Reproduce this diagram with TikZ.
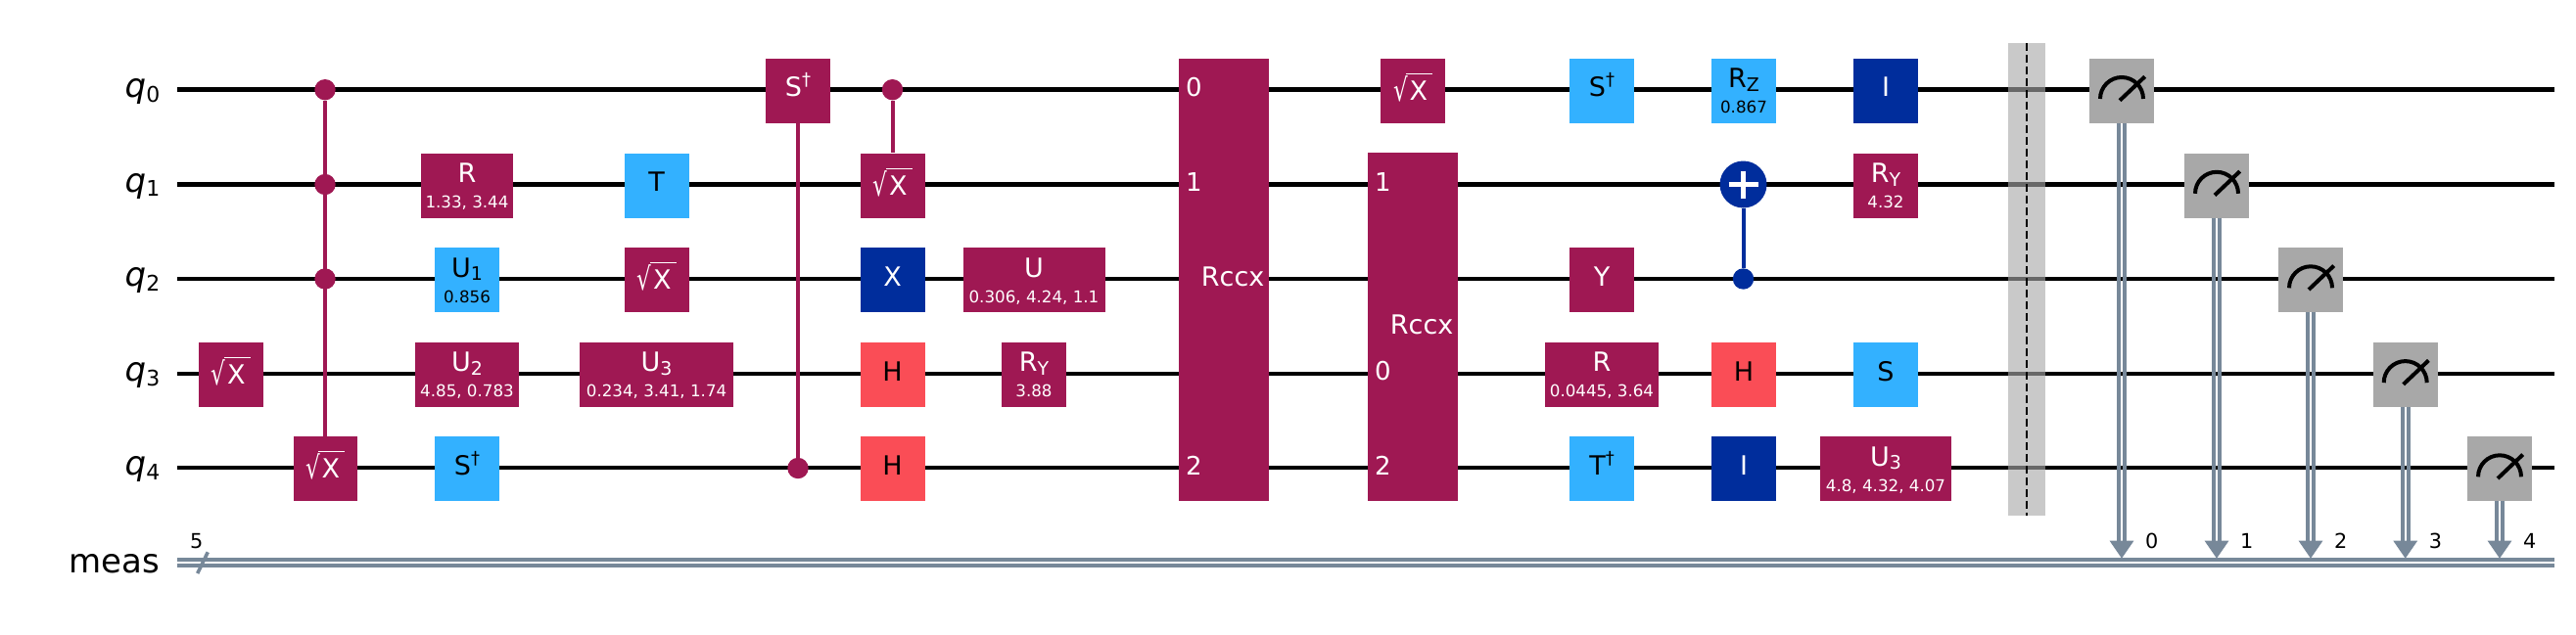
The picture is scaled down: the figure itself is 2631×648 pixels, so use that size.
\documentclass[tikz,border=0pt]{standalone}
\usepackage{fontspec}
\setmainfont{DejaVu Sans}
\newfontfamily\radf[FakeStretch=0.72]{DejaVu Sans}
\definecolor{qpur}{HTML}{9F1853}
\definecolor{qsky}{HTML}{33B1FF}
\definecolor{qdrk}{HTML}{002D9C}
\definecolor{qred}{HTML}{FA4D56}
\definecolor{qgry}{HTML}{A8A8A8}
\definecolor{qcw}{HTML}{778899}
\tikzset{
  x=1pt,y=-1pt,
  gbox/.style={rectangle,inner sep=0pt,minimum height=66pt,minimum width=#1},
  gbox/.default=66pt,
  gpur/.style={fill=qpur},gsky/.style={fill=qsky},gdrk/.style={fill=qdrk},gred/.style={fill=qred},
  tpur/.style={text=white},tsky/.style={text=black},tdrk/.style={text=white},tred/.style={text=black},
  gtxt/.style={inner sep=0pt,anchor=base,font=\fontsize{27}{30}\selectfont},
  gdig/.style={inner sep=0pt,text=white,anchor=base west,font=\fontsize{26}{30}\selectfont},
  gsub/.style={inner sep=0pt,anchor=base,font=\fontsize{16.7}{20}\selectfont},
  qlab/.style={inner sep=0pt,anchor=base east,text=black,font=\fontsize{34}{38}\selectfont},
  small/.style={inner sep=0pt,anchor=base,text=black,font=\fontsize{20.8}{24}\selectfont},
  wire/.style={line width=4.5pt,black},
  cwire/.style={line width=4pt,qcw},
  ctl/.style={line width=4pt,#1},
  dot/.style={circle,inner sep=0pt,minimum size=21.4pt,fill=#1},
  icon/.style={line width=4pt,black},
}
\def\ya{91.7}\def\yb{188.5}\def\yc{285}\def\yd{381.8}\def\ye{478}
\newcommand\sqx{\raisebox{-3.3pt}{\makebox[40pt][l]{\rlap{\radf\fontsize{32}{33}\selectfont\raisebox{-1pt}{√}}\rlap{\kern13.3pt\rule[26.3pt]{26.7pt}{1.1pt}}\kern16.6pt X}}}
\newcommand\subm[1]{\raisebox{-3.7pt}{\fontsize{19}{20}\selectfont #1}}
\newcommand\dg{\raisebox{11pt}{\fontsize{18}{20}\selectfont †}}
\newcommand\pgate[6]{% name,x,y,width,colour,title
  \node[gbox=#4,g#5] (#1) at (#2,{#3+1}) {};
  \node[gtxt,t#5] (#1t) at (#2,{#3+7.2}) {#6};}
\newcommand\vgate[7]{% name,x,y,width,colour,title,value
  \node[gbox=#4,g#5] (#1) at (#2,{#3+1}) {};
  \node[gtxt,t#5] (#1t) at (#2,{#3-2}) {#6};
  \node[gsub,t#5] (#1v) at (#2,{#3+24}) {#7};}
\newcommand\measg[4]{% name,x,y,bit
  \coordinate (#1a) at (#2,552.7);
  \coordinate (#1b) at (#2,570.7);
  \node[gbox=66pt,fill=qgry] (#1) at (#2,{#3+1}) {};
  \draw[cwire] ([xshift=-3pt]#1.south) -- ([xshift=-3pt]#1a);
  \draw[cwire] ([xshift=3pt]#1.south) -- ([xshift=3pt]#1a);
  \fill[qcw] ([xshift=-12.4pt]#1a) -- ([xshift=12.4pt]#1a) -- (#1b) -- cycle;
  \coordinate (#1p) at (#2-22,{#3+9.3});
  \draw[icon] (#1p) arc[start angle=180,end angle=360,radius=22];
  \coordinate (#1n) at (#2-2,{#3+11});
  \coordinate (#1e) at (#2+23.7,{#3-13.4});
  \draw[icon] (#1n) -- (#1e);
  \node[small] (#1l) at (#2+30.7,560.7) {#4};}
\begin{document}
\begin{tikzpicture}
\useasboundingbox (0,0) rectangle (2631,648);
% qubit wires
\foreach \n/\y in {a/\ya,b/\yb,c/\yc,d/\yd,e/\ye}{
  \coordinate (w\n s) at (181,\y);
  \coordinate (w\n e) at (2609,\y);
  \draw[wire] (w\n s) -- (w\n e);
}
% classical wire
\coordinate (cas) at (181,572);\coordinate (cae) at (2609,572);
\coordinate (cbs) at (181,577.8);\coordinate (cbe) at (2609,577.8);
\draw[cwire] (cas) -- (cae);
\draw[cwire] (cbs) -- (cbe);
\coordinate (sla) at (201.7,586);\coordinate (slb) at (212.3,564.3);
\draw[line width=3.6pt,qcw] (sla) -- (slb);
\node[small] (five) at (200.7,560.7) {5};
% labels
\node[qlab] (lq0) at (163.5,{\ya+7.6}) {\textit{q}\raisebox{-4.7pt}{\fontsize{22}{24}\selectfont 0}};
\node[qlab] (lq1) at (163.5,{\yb+7.6}) {\textit{q}\raisebox{-4.7pt}{\fontsize{22}{24}\selectfont 1}};
\node[qlab] (lq2) at (163.5,{\yc+7.6}) {\textit{q}\raisebox{-4.7pt}{\fontsize{22}{24}\selectfont 2}};
\node[qlab] (lq3) at (163.5,{\yd+7.6}) {\textit{q}\raisebox{-4.7pt}{\fontsize{22}{24}\selectfont 3}};
\node[qlab] (lq4) at (163.5,{\ye+7.6}) {\textit{q}\raisebox{-4.7pt}{\fontsize{22}{24}\selectfont 4}};
\node[qlab] (lm) at (163,585) {meas};
% column 1
\pgate{sa}{235.6}{\yd}{66pt}{pur}{\sqx}
% CCC-SX
\node[dot=qpur] (ca0) at (332,\ya) {};
\node[dot=qpur] (ca1) at (332,\yb) {};
\node[dot=qpur] (ca2) at (332,\yc) {};
\pgate{sb}{332}{\ye}{65pt}{pur}{\sqx}
\draw[ctl=qpur] (ca0) -- (sb);
% column 3
\vgate{ra}{477}{\yb}{94pt}{pur}{R}{1.33, 3.44}
\vgate{ua}{477}{\yc}{66pt}{sky}{U\subm{1}}{0.856}
\vgate{ub}{477}{\yd}{106pt}{pur}{U\subm{2}}{4.85, 0.783}
\pgate{sc}{477}{\ye}{66pt}{sky}{S\dg}
% column 4
\pgate{ta}{670.6}{\yb}{66pt}{sky}{T}
\pgate{sd}{670.6}{\yc}{66pt}{pur}{\sqx}
\vgate{uc}{670.6}{\yd}{157pt}{pur}{U\subm{3}}{0.234, 3.41, 1.74}
% column 5
\pgate{se}{815}{\ya}{66pt}{pur}{S\dg}
\node[dot=qpur] (cb) at (815,{\ye+.5}) {};
\draw[ctl=qpur] (se) -- (cb);
% column 6
\node[dot=qpur] (cc) at (911.5,\ya) {};
\pgate{sf}{911.5}{\yb}{66pt}{pur}{\sqx}
\draw[ctl=qpur] (cc) -- (sf);
\pgate{xa}{911.5}{\yc}{66pt}{drk}{X}
\pgate{ha}{911.5}{\yd}{66pt}{red}{H}
\pgate{hb}{911.5}{\ye}{66pt}{red}{H}
% column 7
\vgate{ud}{1056}{\yc}{145pt}{pur}{U}{0.306, 4.24, 1.1}
\vgate{rb}{1056}{\yd}{66pt}{pur}{R\subm{Y}}{3.88}
% Rccx 1
\node[rectangle,inner sep=0pt,minimum width=92pt,minimum height=451.6pt,fill=qpur] (rca) at (1250,285.8) {};
\node[gdig] (rca0) at (1211,{\ya+6.5}) {0};
\node[gdig] (rca1) at (1211,{\yb+6.5}) {1};
\node[gdig] (rca2) at (1211,{\ye+7.5}) {2};
\node[gtxt,text=white,anchor=base east] (rcat) at (1291.5,292) {Rccx};
% column 9
\pgate{sg}{1443}{\ya}{66pt}{pur}{\sqx}
\node[rectangle,inner sep=0pt,minimum width=92pt,minimum height=355.8pt,fill=qpur] (rcb) at (1443,333.7) {};
\node[gdig] (rcb1) at (1404,{\yb+6.5}) {1};
\node[gdig] (rcb0) at (1404,{\yd+6.5}) {0};
\node[gdig] (rcb2) at (1404,{\ye+7.5}) {2};
\node[gtxt,text=white,anchor=base east] (rcbt) at (1484.5,341) {Rccx};
% column 10
\pgate{sh}{1636}{\ya}{66pt}{sky}{S\dg}
\pgate{ya}{1636}{\yc}{66pt}{pur}{Y}
\vgate{rc}{1636}{\yd}{115.6pt}{pur}{R}{0.0445, 3.64}
\pgate{tb}{1636}{\ye}{66pt}{sky}{T\dg}
% column 11
\vgate{rd}{1781}{\ya}{66pt}{sky}{R\subm{Z}}{0.867}
\node[circle,inner sep=0pt,minimum size=48pt,fill=qdrk] (cx) at (1780.5,\yb) {};
\node[dot=qdrk] (cd) at (1780.5,\yc) {};
\draw[ctl=qdrk] (cx) -- (cd);
\coordinate (pl) at (1765.5,\yb);\coordinate (pr) at (1795.5,\yb);
\coordinate (pu) at (1780.5,{\yb-14});\coordinate (pd) at (1780.5,{\yb+14});
\draw[line width=4.5pt,white] (pl) -- (pr);
\draw[line width=4.5pt,white] (pu) -- (pd);
\pgate{hc}{1781}{\yd}{66pt}{red}{H}
\pgate{ia}{1781}{\ye}{66pt}{drk}{I}
% column 12
\pgate{ib}{1926}{\ya}{66pt}{drk}{I}
\vgate{re}{1926}{\yb}{66pt}{pur}{R\subm{Y}}{4.32}
\pgate{sj}{1926}{\yd}{66pt}{sky}{S}
\vgate{ue}{1926}{\ye}{134pt}{pur}{U\subm{3}}{4.8, 4.32, 4.07}
% barrier
\node[rectangle,inner sep=0pt,minimum width=38pt,minimum height=483pt,fill=qgry,fill opacity=.62] (bar) at (2070,285.5) {};
\draw[line width=2.6pt,black,dash pattern=on 8pt off 4pt] (bar.north) -- (bar.south);
% measurements
\measg{ma}{2167}{\ya}{0}
\measg{mb}{2264}{\yb}{1}
\measg{mc}{2360}{\yc}{2}
\measg{md}{2456.7}{\yd}{3}
\measg{me}{2553}{\ye}{4}
\end{tikzpicture}
\end{document}
